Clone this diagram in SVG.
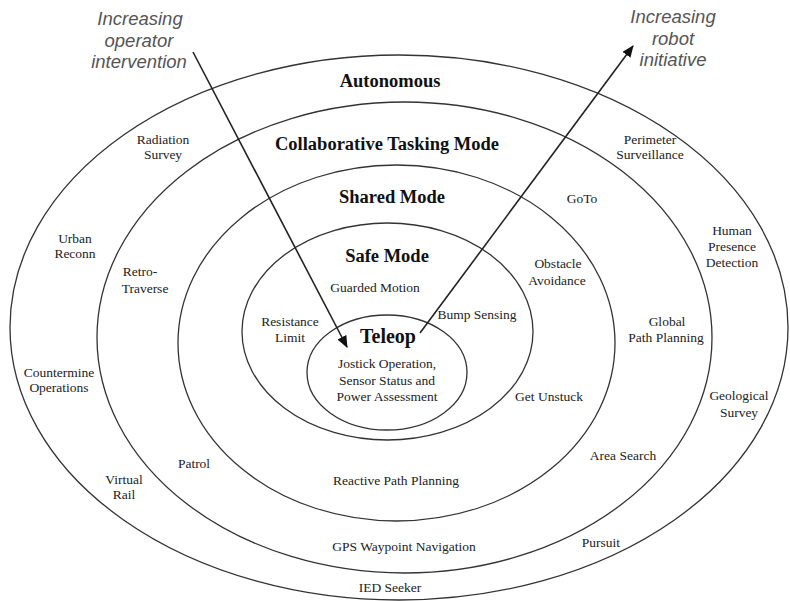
<svg xmlns="http://www.w3.org/2000/svg" width="790" height="601" viewBox="0 0 790 601">
<style>
.ring{fill:none;stroke:#333;stroke-width:1.3}
.title{font-family:"Liberation Serif","Times New Roman",serif;font-weight:bold;font-size:18.5px;fill:#111;text-anchor:middle}
.lbl{font-family:"Liberation Serif","Times New Roman",serif;font-size:13.5px;fill:#222;text-anchor:middle}
.cap{font-family:"Liberation Sans",Arial,sans-serif;font-style:italic;font-size:18.5px;fill:#555;text-anchor:middle}
.arrow{fill:none;stroke:#222;stroke-width:1.6}
</style>
<defs>
<marker id="ah" viewBox="0 0 12 10" refX="11" refY="5" markerWidth="12" markerHeight="10" markerUnits="userSpaceOnUse" orient="auto">
<path d="M0,0 L12,5 L0,10 z" fill="#111"/>
</marker>
</defs>
<rect width="790" height="601" fill="#fff"/>

<g id="autonomous">
<ellipse class="ring" cx="399" cy="327.5" rx="389" ry="272.5"/>
<text class="title" x="390" y="87">Autonomous</text>
<text class="lbl" x="163" y="144">Radiation</text>
<text class="lbl" x="163" y="159">Survey</text>
<text class="lbl" x="650" y="144">Perimeter</text>
<text class="lbl" x="650" y="159">Surveillance</text>
<text class="lbl" x="75" y="243">Urban</text>
<text class="lbl" x="75" y="258">Reconn</text>
<text class="lbl" x="732" y="235">Human</text>
<text class="lbl" x="732" y="251">Presence</text>
<text class="lbl" x="732" y="267">Detection</text>
<text class="lbl" x="59" y="377">Countermine</text>
<text class="lbl" x="59" y="392">Operations</text>
<text class="lbl" x="739" y="400">Geological</text>
<text class="lbl" x="739" y="417">Survey</text>
<text class="lbl" x="124" y="484">Virtual</text>
<text class="lbl" x="124" y="499">Rail</text>
<text class="lbl" x="601" y="547">Pursuit</text>
<text class="lbl" x="390" y="592">IED Seeker</text>
</g>

<g id="collaborative">
<ellipse class="ring" cx="404.5" cy="337.5" rx="307.5" ry="235.5"/>
<text class="title" x="387" y="150">Collaborative Tasking Mode</text>
<text class="lbl" x="582" y="203">GoTo</text>
<text class="lbl" x="140" y="276">Retro-</text>
<text class="lbl" x="145" y="293">Traverse</text>
<text class="lbl" x="667" y="326">Global</text>
<text class="lbl" x="666" y="342">Path Planning</text>
<text class="lbl" x="194" y="468">Patrol</text>
<text class="lbl" x="623" y="460">Area Search</text>
<text class="lbl" x="404" y="551">GPS Waypoint Navigation</text>
</g>

<g id="shared">
<ellipse class="ring" cx="396.5" cy="343" rx="218.5" ry="178"/>
<text class="title" x="392" y="203">Shared Mode</text>
<text class="lbl" x="558" y="268">Obstacle</text>
<text class="lbl" x="557" y="285">Avoidance</text>
<text class="lbl" x="549" y="401">Get Unstuck</text>
<text class="lbl" x="396" y="485">Reactive Path Planning</text>
</g>

<g id="safe">
<ellipse class="ring" cx="387.5" cy="331.5" rx="145.5" ry="108.5"/>
<text class="title" x="387" y="262">Safe Mode</text>
<text class="lbl" x="375" y="292">Guarded Motion</text>
<text class="lbl" x="477" y="319">Bump Sensing</text>
<text class="lbl" x="290" y="326">Resistance</text>
<text class="lbl" x="290" y="342">Limit</text>
</g>

<g id="teleop">
<ellipse class="ring" cx="387" cy="372.5" rx="80" ry="57.5"/>
<text class="title" x="388" y="343" style="font-size:20px">Teleop</text>
<text class="lbl" x="387" y="368">Jostick Operation,</text>
<text class="lbl" x="387" y="385">Sensor Status and</text>
<text class="lbl" x="387" y="401">Power Assessment</text>
</g>

<g id="connectors">
<line class="arrow" x1="193" y1="52" x2="347" y2="347" marker-end="url(#ah)"/>
<line class="arrow" x1="420" y1="333" x2="633" y2="46" marker-end="url(#ah)"/>
</g>

<g id="captions">
<text class="cap" x="140" y="25">Increasing</text>
<text class="cap" x="139" y="46.5">operator</text>
<text class="cap" x="139" y="68">intervention</text>
<text class="cap" x="673" y="23">Increasing</text>
<text class="cap" x="673" y="44.5">robot</text>
<text class="cap" x="673" y="66">initiative</text>
</g>
</svg>
